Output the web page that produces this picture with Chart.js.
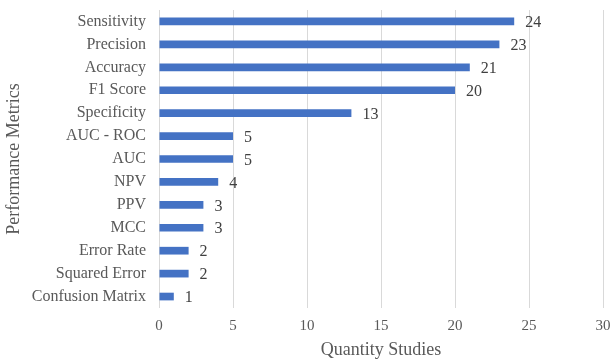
<!DOCTYPE html>
<html>
<head>
<meta charset="utf-8">
<script src="https://cdn.jsdelivr.net/npm/chart.js@4"></script>
<style>
  html, body { margin: 0; padding: 0; background: #fff; }
  #wrap { width: 611px; height: 362px; }
</style>
</head>
<body>
<div id="wrap"><canvas id="metricsChart"></canvas></div>
<script>
// Data
const metrics = ['Sensitivity', 'Precision', 'Accuracy', 'F1 Score', 'Specificity', 'AUC - ROC',
    'AUC', 'NPV', 'PPV', 'MCC', 'Error Rate', 'Squared Error', 'Confusion Matrix'];
const studyCounts = [24, 23, 21, 20, 13, 5, 5, 4, 3, 3, 2, 2, 1];
const xTicks = [0, 5, 10, 15, 20, 25, 30];

const serif = "'Liberation Serif', 'Times New Roman', serif";

// Value labels at the end of each bar
const barValueLabels = {
    id: 'barValueLabels',
    afterDatasetsDraw(chart) {
        const ctx = chart.ctx;
        const meta = chart.getDatasetMeta(0);
        ctx.save();
        ctx.font = '16px ' + serif;
        ctx.fillStyle = '#404040';
        ctx.textAlign = 'left';
        ctx.textBaseline = 'middle';
        meta.data.forEach((bar, i) => {
            ctx.fillText(String(studyCounts[i]), bar.x + 11, bar.y + 1.5);
        });
        ctx.restore();
    }
};

const ctx = document.getElementById('metricsChart').getContext('2d');
new Chart(ctx, {
    type: 'bar',
    data: {
        labels: metrics,
        datasets: [{
            data: studyCounts,
            backgroundColor: '#4472C4',
            borderWidth: 0,
            barPercentage: 0.8,
            categoryPercentage: 0.42
        }]
    },
    options: {
        indexAxis: 'y',
        responsive: true,
        maintainAspectRatio: false,
        animation: false,
        layout: { padding: { top: 10, right: 8, bottom: 0, left: 0 } },
        plugins: {
            legend: { display: false },
            tooltip: { enabled: false }
        },
        scales: {
            x: {
                min: 0,
                max: 30,
                afterBuildTicks: axis => { axis.ticks = xTicks.map(v => ({ value: v })); },
                afterFit: axis => {
                    axis.height = 54;
                    axis.paddingLeft = 0;
                    axis.paddingRight = 0;
                },
                grid: { color: '#d9d9d9', lineWidth: 1, drawTicks: false },
                border: { display: false },
                ticks: {
                    color: '#595959',
                    padding: 9,
                    font: { family: serif, size: 15 }
                },
                title: {
                    display: true,
                    text: 'Quantity Studies',
                    color: '#595959',
                    padding: { top: 0, bottom: 1 },
                    font: { family: serif, size: 18 }
                }
            },
            y: {
                afterFit: axis => {
                    axis.width = 159;
                    axis.paddingTop = 0;
                    axis.paddingBottom = 0;
                },
                grid: { display: false, drawTicks: false },
                border: { display: false },
                ticks: {
                    autoSkip: false,
                    color: '#595959',
                    padding: 13,
                    font: { family: serif, size: 16 }
                },
                title: {
                    display: true,
                    text: 'Performance Metrics',
                    color: '#595959',
                    padding: { top: 3, bottom: 0 },
                    font: { family: serif, size: 18 }
                }
            }
        }
    },
    plugins: [barValueLabels]
});
</script>
</body>
</html>
